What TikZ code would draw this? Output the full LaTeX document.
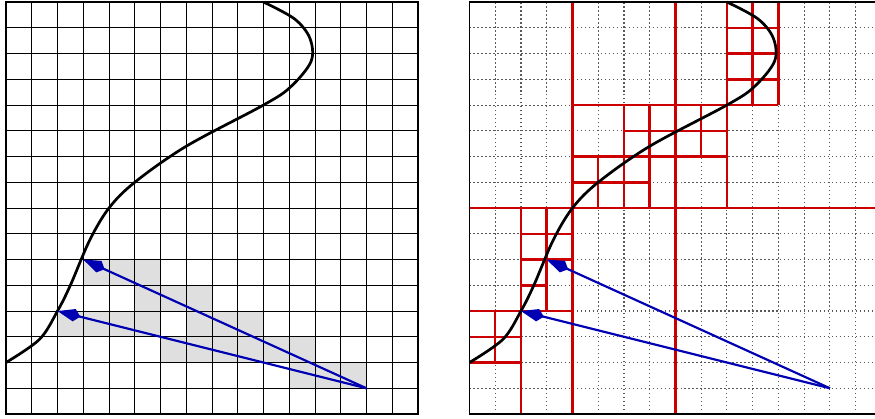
\documentclass[tikz,border=0pt]{standalone}
\usetikzlibrary{arrows.meta}

\begin{document}
\begin{tikzpicture}[x=0.5cm, y=0.5cm,
  cellfill/.style={fill=gray!25},
  fine/.style={line width=0.5pt, step={(1,1)}},
  frame/.style={line width=0.8pt},
  dots/.style={black!65, dash pattern=on 0.8pt off 1.4pt, line width=0.6pt, step={(1,1)}},
  split/.style={red!80!black, line width=1.4pt},
  curve/.style={line width=1.5pt},
  ray/.style={-{Kite[length=13pt,width=7pt,inset=3.5pt]}, blue!70!black, line width=1.2pt}
]
\clip (-0.233,-0.155) rectangle (33.75,16.08);

% left: uniform grid, cells hit by the rays shaded
\foreach \c/\r in {3/5,4/5,5/5, 5/4,6/4,7/4, 2/3,3/3,4/3,5/3,7/3,8/3,9/3,
                   6/2,7/2,8/2,9/2,10/2,11/2, 11/1,12/1,13/1}
  \fill[cellfill] (\c,\r) rectangle ++(1,1);
\draw[fine] (0,0) grid (16,16);
\draw[frame] (0,0) rectangle (16,16);

% right: adaptive subdivision
\begin{scope}[shift={(18,0)}]
\draw[dots] (0,0) grid (16,16);
\draw[split] (0,8) -- (16,8) (4,0) -- (4,16) (8,0) -- (8,16);
\draw[split] (2,0) -- (2,8) (3,4) -- (3,8) (2,7) -- (4,7) (2,6) -- (4,6) (2,5) -- (3,5)
             (0,4) -- (4,4) (1,2) -- (1,4) (0,3) -- (2,3) (0,2) -- (2,2);
\draw[split] (10,8) -- (10,16) (4,12) -- (12,12) (5,8) -- (5,10) (6,8) -- (6,12)
             (7,8) -- (7,12) (9,10) -- (9,12) (11,12) -- (11,16) (12,12) -- (12,16)
             (4,9) -- (7,9) (4,10) -- (10,10) (6,11) -- (10,11)
             (10,13) -- (12,13) (10,14) -- (12,14) (10,15) -- (12,15);
\draw[frame] (0,0) rectangle (16,16);
\end{scope}

% curve and rays, same in both panels
\foreach \ox in {0,18} {
  \begin{scope}[shift={(\ox,0)}]
    \draw[curve] plot[smooth, tension=0.55] coordinates {(0,2) (1.3,2.9) (2,4) (2.5,5) (3.25,6.75)
      (4,8) (5,9) (7,10.4) (10,12) (11.05,12.7) (11.85,13.7) (11.8,14.6) (11.2,15.35) (10,16)};
    \coordinate (src\ox) at (14,1);
    \coordinate (hitA\ox) at (2,4);
    \coordinate (hitB\ox) at (3,6);
    \draw[ray] (src\ox) -- (hitA\ox);
    \draw[ray] (src\ox) -- (hitB\ox);
  \end{scope}
}
\end{tikzpicture}
\end{document}
